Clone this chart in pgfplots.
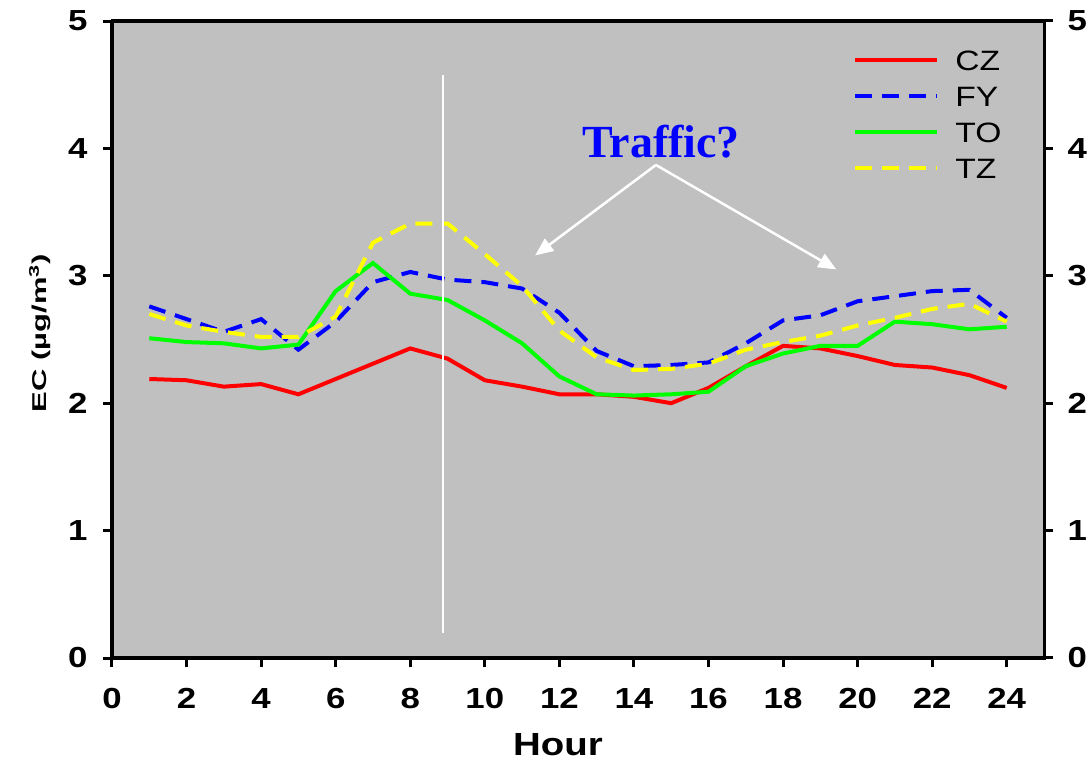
\documentclass[border=0pt]{standalone}
\usepackage{fontspec}
\setmainfont{Liberation Sans}[FakeStretch=1.2]
\newfontfamily\trafficfont{Liberation Serif}
\usepackage{graphicx}
\usepackage{pgfplots}
\usepackage{pgfplotstable}
\pgfplotsset{compat=1.18}
\usetikzlibrary{arrows.meta}

\definecolor{panel}{RGB}{192,192,192}
\definecolor{czred}{RGB}{255,0,0}
\definecolor{fyblue}{RGB}{0,0,255}
\definecolor{togreen}{RGB}{0,255,0}
\definecolor{tzyellow}{RGB}{255,255,0}

% Hourly mean EC concentrations at the four sites
\pgfplotstableread{
h   CZ    FY    TO    TZ
1   2.19  2.76  2.51  2.70
2   2.18  2.66  2.48  2.61
3   2.13  2.56  2.47  2.56
4   2.15  2.66  2.43  2.52
5   2.07  2.42  2.46  2.52
6   2.19  2.64  2.88  2.68
7   2.31  2.95  3.10  3.26
8   2.43  3.03  2.86  3.41
9   2.35  2.97  2.81  3.41
10  2.18  2.95  2.65  3.17
11  2.13  2.90  2.47  2.92
12  2.07  2.71  2.21  2.57
13  2.07  2.41  2.07  2.36
14  2.05  2.29  2.06  2.26
15  2.00  2.30  2.07  2.27
16  2.12  2.32  2.09  2.31
17  2.29  2.47  2.29  2.42
18  2.45  2.65  2.39  2.48
19  2.43  2.69  2.45  2.53
20  2.37  2.80  2.45  2.61
21  2.30  2.84  2.64  2.67
22  2.28  2.88  2.62  2.74
23  2.22  2.89  2.58  2.78
24  2.12  2.67  2.60  2.64
}\ectable

\pgfplotsset{
  ecframe/.style={
    at={(0pt,0pt)}, anchor=south west,
    width=932pt, height=637pt, scale only axis,
    xmin=0, xmax=25, ymin=0, ymax=5,
    ytick={0,1,...,5},
    tick align=outside,
    major tick length=9pt,
    every tick/.style={black, line width=3pt},
    axis line style={line width=3pt},
    /pgf/number format/assume math mode=true,
    ticklabel style={font=\fontsize{29}{29}\selectfont\bfseries},
  },
}

\begin{document}
\begin{tikzpicture}
\path[use as bounding box] (-112pt,-105pt) rectangle (978pt,658pt);

\begin{axis}[
  ecframe,
  axis background/.style={fill=panel},
  xtick={0,2,...,24},
  xtick pos=left, ytick pos=left,
  xticklabel style={yshift=-18pt},
  yticklabel style={xshift=-12pt},
  xlabel={Hour},
  xlabel style={font=\fontsize{32}{32}\selectfont\bfseries,
    at={(axis description cs:0.4785,-0.1366)}, anchor=center},
  ylabel={\scalebox{1.29}[1]{\fontsize{20}{20}\selectfont\bfseries EC (µg/m\textsuperscript{3})}},
  ylabel style={at={(axis description cs:-0.0773,0.51)}, anchor=center},
  legend cell align=left,
  legend style={draw=none, fill=none, inner sep=0pt,
    at={(axis cs:19.88,4.772)}, anchor=north west,
    font=\fontsize{28}{28}\selectfont,
    row sep=16pt, column sep=16pt,
    nodes={inner sep=0pt, text height=20pt, text depth=0pt}},
  legend image code/.code={\draw[#1] (0pt,0pt) -- (82pt,0pt);},
  every axis plot/.append style={line width=4pt},
]
\addplot[czred, solid] table[x=h, y=CZ] {\ectable};
\addlegendentry{CZ}
\addplot[fyblue, dash pattern=on 17pt off 10pt] table[x=h, y=FY] {\ectable};
\addlegendentry{FY}
\addplot[togreen, solid] table[x=h, y=TO] {\ectable};
\addlegendentry{TO}
\addplot[tzyellow, dash pattern=on 17pt off 10pt] table[x=h, y=TZ] {\ectable};
\addlegendentry{TZ}

% morning rush-hour marker and traffic annotation
\draw[white, line width=2pt] (axis cs:8.88,0.2) -- (axis cs:8.88,4.58);
\node[font=\trafficfont\bfseries\fontsize{46}{46}\selectfont, text=fyblue, anchor=base]
  at (axis cs:14.73,3.925) {Traffic?};
\draw[white, line width=2.5pt, -{Triangle[length=18pt,width=15pt]}]
  (axis cs:14.59,3.87) -- (axis cs:11.35,3.16);
\draw[white, line width=2.5pt, -{Triangle[length=18pt,width=15pt]}]
  (axis cs:14.59,3.87) -- (axis cs:19.43,3.05);
\end{axis}

% right-hand copy of the concentration scale
\begin{axis}[
  ecframe,
  xtick=\empty,
  ytick pos=right, yticklabel pos=right,
  yticklabel style={xshift=11pt},
]
\end{axis}
\end{tikzpicture}
\end{document}
